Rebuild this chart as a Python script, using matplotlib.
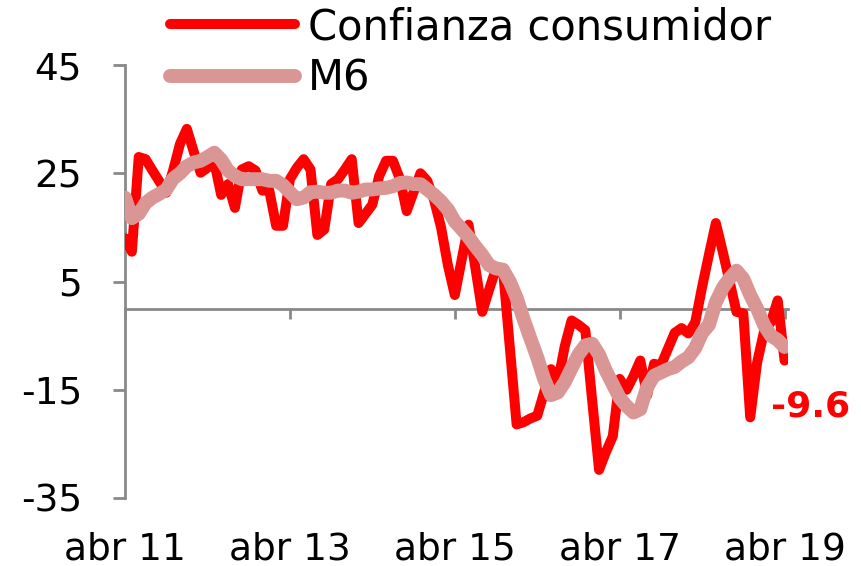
import matplotlib
matplotlib.use("Agg")
import matplotlib.pyplot as plt
import numpy as np

# monthly data, abr 2011 .. abr 2019
confianza = [13, 10.5, 28, 27.6, 25.5, 23.5, 21.4, 25.5, 30.4, 33.2,
             29, 25.1, 26, 27, 21, 23, 18.6, 25.7, 26.3, 25.5,
             21.8, 21.8, 15.3, 15.3, 23.9, 26, 27.6, 25.7, 13.6, 14.6,
             23, 23.9, 25.7, 27.6, 15.8, 17.5, 19.2, 24.5, 27.3, 27.3,
             24, 18, 21.5, 25, 23.6, 20, 15, 8, 2.5, 9,
             15.5, 7.5, -0.6, 3.5, 7.4, 7.4, -7, -21.4, -21, -20.3,
             -19.8, -15.5, -11.2, -13.6, -7, -2.2, -3, -4, -17, -29.8,
             -26.5, -23.6, -13, -15, -12.5, -9.6, -16, -10.2, -10.5, -7.5,
             -4.5, -3.6, -4.6, -2.5, 4, 10, 15.8, 10.5, 5, -0.6,
             -0.9, -20.1, -10, -4.3, -2.5, 1.5, -9.6]
m6 = [20.5, 16.7, 17.5, 19.5, 20.5, 21.2, 22, 24, 25, 26.3,
      27, 27.3, 28, 28.8, 27.5, 25.5, 24.5, 23.9, 23.9, 23.9,
      23.9, 23.6, 23.6, 22.8, 21.5, 20.2, 20.5, 21.5, 21.6, 21.4,
      21.4, 21.8, 21.8, 21.4, 21.6, 22, 22, 22.2, 22.3, 22.6,
      23.2, 23.3, 23, 23, 22, 21, 19.8, 18.3, 16.1, 14.7,
      13.2, 11.5, 9.9, 8, 7.4, 7.2, 5, 2, -1.9, -5.5,
      -9, -13, -16, -15.5, -13.6, -11, -8.5, -6.8, -6.5, -8.5,
      -11.5, -14, -16.5, -18, -19.2, -18.6, -14.5, -12.4, -11.8, -11.2,
      -10.8, -9.8, -9, -7.3, -4.5, -3, 1.2, 3.8, 5.6, 7,
      5.5, 2.5, 0, -3, -5, -5.8, -7.1]
tick_pos = [0, 24, 48, 72, 96]
tick_labels = ["abr 11", "abr 13", "abr 15", "abr 17", "abr 19"]
y_ticks = [-35, -15, 5, 25, 45]

RED = "#FF0000"
PINK = "#D99694"
GRAY = "#898989"

plt.rcParams['font.family'] = ['DejaVu Sans']
plt.rcParams['axes.unicode_minus'] = False

fig = plt.figure(figsize=(8.62, 5.66), dpi=100)
ax = fig.add_axes([125 / 862, 1 - 498 / 566, 663 / 862, 433 / 566])

x = np.arange(len(confianza))
ax.plot(x, confianza, color=RED, lw=7.2, solid_joinstyle='round',
        solid_capstyle='round', label="Confianza consumidor", zorder=3)
ax.plot(x, m6, color=PINK, lw=10, solid_joinstyle='round',
        solid_capstyle='round', label="M6", zorder=4)

ax.set_xlim(0, 96.5)
ax.set_ylim(-35, 45)

for s in ['top', 'right', 'bottom']:
    ax.spines[s].set_visible(False)
ax.spines['left'].set_color(GRAY)
ax.spines['left'].set_linewidth(2)

ax.set_yticks(y_ticks)
ax.tick_params(axis='y', colors=GRAY, length=9, width=2, pad=22,
               labelsize=27, labelcolor='black')
ax.set_xticks(tick_pos)
ax.set_xticklabels(tick_labels)
ax.tick_params(axis='x', length=0, pad=24, labelsize=27)

# zero line with its own ticks
zero_frac = (0 - (-35)) / (45 - (-35))
sec = ax.secondary_xaxis(zero_frac)
sec.set_xticks(tick_pos)
sec.tick_params(axis='x', direction='out', length=7, width=2, colors=GRAY,
                labelbottom=False, labeltop=False)
for s in sec.spines.values():
    s.set_color(GRAY)
    s.set_linewidth(2)

# last value label
ax.annotate(f"{confianza[-1]:.1f}", xy=(x[-1], confianza[-1]),
            xytext=(-10, -33), textcoords='offset points',
            ha='left', va='center', color=RED, fontsize=26,
            fontweight='bold', annotation_clip=False)

ax.legend(loc='upper left', bbox_to_anchor=(170 / 862, 1 - 6 / 566),
          bbox_transform=fig.transFigure, frameon=False, fontsize=30,
          borderpad=0, borderaxespad=0, handlelength=3.0,
          handletextpad=0.3, labelspacing=0.22)

fig.savefig("out.png", dpi=100)
